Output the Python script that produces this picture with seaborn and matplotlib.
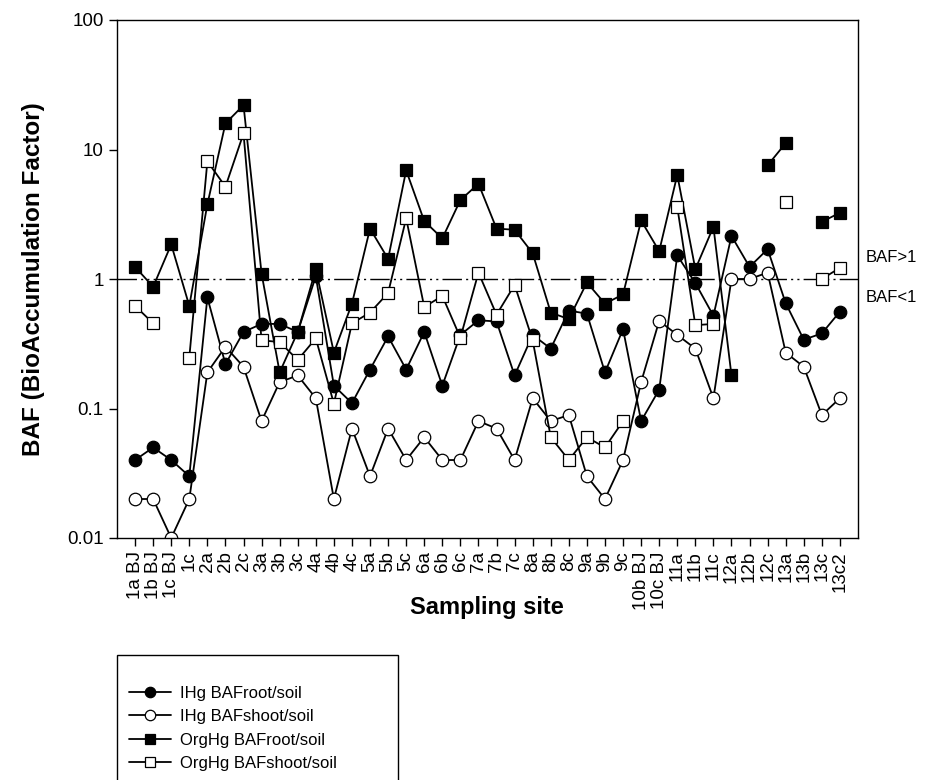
import numpy as np
import pandas as pd
import matplotlib
matplotlib.use("Agg")
import matplotlib.pyplot as plt
import seaborn as sns
from matplotlib.lines import Line2D
from matplotlib.patches import Rectangle
from matplotlib.ticker import FixedLocator, NullLocator, FuncFormatter

nan = np.nan

sites = ["1a BJ", "1b BJ", "1c BJ", "1c", "2a", "2b", "2c", "3a", "3b", "3c",
         "4a", "4b", "4c", "5a", "5b", "5c", "6a", "6b", "6c", "7a",
         "7b", "7c", "8a", "8b", "8c", "9a", "9b", "9c", "10b BJ", "10c BJ",
         "11a", "11b", "11c", "12a", "12b", "12c", "13a", "13b", "13c", "13c2"]

ihg_root = [0.040, 0.050, 0.040, 0.030, 0.72, 0.22, 0.39, 0.45, 0.45, 0.39,
            1.05, 0.15, 0.11, 0.20, 0.36, 0.20, 0.39, 0.15, 0.37, 0.48,
            0.47, 0.18, 0.37, 0.29, 0.57, 0.54, 0.19, 0.41, 0.08, 0.14,
            1.52, 0.93, 0.52, 2.15, 1.24, 1.70, 0.65, 0.34, 0.38, 0.56]

ihg_shoot = [0.020, 0.020, 0.010, 0.020, 0.19, 0.30, 0.21, 0.08, 0.16, 0.18,
             0.12, 0.020, 0.07, 0.030, 0.07, 0.040, 0.06, 0.040, 0.040, 0.08,
             0.07, 0.040, 0.12, 0.08, 0.089, 0.030, 0.020, 0.040, 0.16, 0.475,
             0.37, 0.29, 0.12, 1.0, 1.0, 1.12, 0.27, 0.21, 0.089, 0.12]

org_root = [1.24, 0.87, 1.85, 0.62, 3.77, 15.9, 22.0, 1.10, 0.19, 0.39,
            1.19, 0.27, 0.645, 2.45, 1.43, 6.9, 2.8, 2.06, 4.07, 5.44,
            2.45, 2.40, 1.58, 0.55, 0.49, 0.94, 0.645, 0.76, 2.83, 1.64,
            6.36, 1.19, 2.53, 0.18, nan, 7.55, 11.2, nan, 2.76, 3.25]

org_shoot = [0.62, 0.455, nan, 0.247, 8.1, 5.16, 13.3, 0.336, 0.326, 0.237,
             0.348, 0.109, 0.455, 0.55, 0.78, 2.94, 0.608, 0.74, 0.352, 1.12,
             0.53, 0.90, 0.336, 0.06, 0.04, 0.06, 0.05, 0.08, nan, nan,
             3.6, 0.44, 0.45, nan, nan, nan, 3.95, nan, 1.0, 1.22]

labels = ["IHg BAFroot/soil", "IHg BAFshoot/soil",
          "OrgHg BAFroot/soil", "OrgHg BAFshoot/soil"]

sns.set_style("ticks")
plt.rcParams["font.family"] = ["Liberation Sans", "DejaVu Sans"]
plt.rcParams["text.color"] = "black"
plt.rcParams["axes.labelcolor"] = "black"
plt.rcParams["xtick.color"] = "black"
plt.rcParams["ytick.color"] = "black"
plt.rcParams["xtick.labelcolor"] = "black"
plt.rcParams["ytick.labelcolor"] = "black"

fig = plt.figure(figsize=(9.3, 7.8), dpi=100)
W, H = 930, 780
ax = fig.add_axes([117 / W, 1 - 538 / H, (858 - 117) / W, (538 - 20) / H])

styles = [
    (ihg_root, "o", "black", 9),
    (ihg_shoot, "o", "white", 9),
    (org_root, "s", "black", 8),
    (org_shoot, "s", "white", 8),
]

handles = []
for (vals, mk, fc, ms), lab in zip(styles, labels):
    df = pd.DataFrame({"pos": np.arange(len(sites)), "val": vals})
    df["seg"] = df["val"].isna().cumsum()
    df = df.dropna()
    sns.lineplot(data=df, x="pos", y="val", units="seg", estimator=None,
                 sort=False, color="black", marker=mk, markersize=ms,
                 markerfacecolor=fc, markeredgecolor="black",
                 markeredgewidth=0.9, linewidth=1.3, ax=ax, legend=False)
    handles.append(Line2D([], [], color="black", marker=mk, markersize=ms - 1.5,
                          markerfacecolor=fc, markeredgecolor="black",
                          markeredgewidth=0.9, linewidth=1.3, label=lab))

ax.axhline(1, color="black", linewidth=1.0,
           linestyle=(0, (14, 3, 1.5, 3, 1.5, 3)), zorder=0.5)

ax.set_yscale("log")
ax.set_ylim(0.01, 100)
ax.set_xlim(-1, len(sites))
ax.yaxis.set_major_locator(FixedLocator([0.01, 0.1, 1, 10, 100]))
ax.yaxis.set_minor_locator(NullLocator())
ax.yaxis.set_major_formatter(FuncFormatter(lambda v, p: "%g" % v))
ax.set_xticks(np.arange(len(sites)))
ax.set_xticklabels(sites, rotation=90)
ax.tick_params(axis="both", direction="out", length=6, width=1,
               labelsize=13.5, color="black", labelcolor="black")
for sp in ax.spines.values():
    sp.set_visible(True)
    sp.set_linewidth(1)
    sp.set_color("black")

ax.set_ylabel("BAF (BioAccumulation Factor)", fontsize=17.5,
              fontweight="bold", color="black")
ax.yaxis.set_label_coords(-0.097, 0.5)
ax.set_xlabel("Sampling site", fontsize=17, fontweight="bold", color="black")
ax.xaxis.set_label_coords(0.499, -0.112)

fig.text(866 / W, 1 - 258 / H, "BAF>1", fontsize=12, va="center", ha="left",
         color="black")
fig.text(866 / W, 1 - 298 / H, "BAF<1", fontsize=12, va="center", ha="left",
         color="black")

fig.add_artist(Rectangle((117 / W, -0.05), (398 - 117) / W, (1 - 655 / H) + 0.05,
                         transform=fig.transFigure, fill=False,
                         edgecolor="black", linewidth=1))
leg = fig.legend(handles=handles, loc="upper left",
                 bbox_to_anchor=(129 / W, 1 - 686 / H), frameon=False,
                 fontsize=12, handlelength=2.5, handletextpad=0.55,
                 labelspacing=0.5, borderpad=0, borderaxespad=0)
for t in leg.get_texts():
    t.set_color("black")

fig.savefig("out.png", dpi=100)
